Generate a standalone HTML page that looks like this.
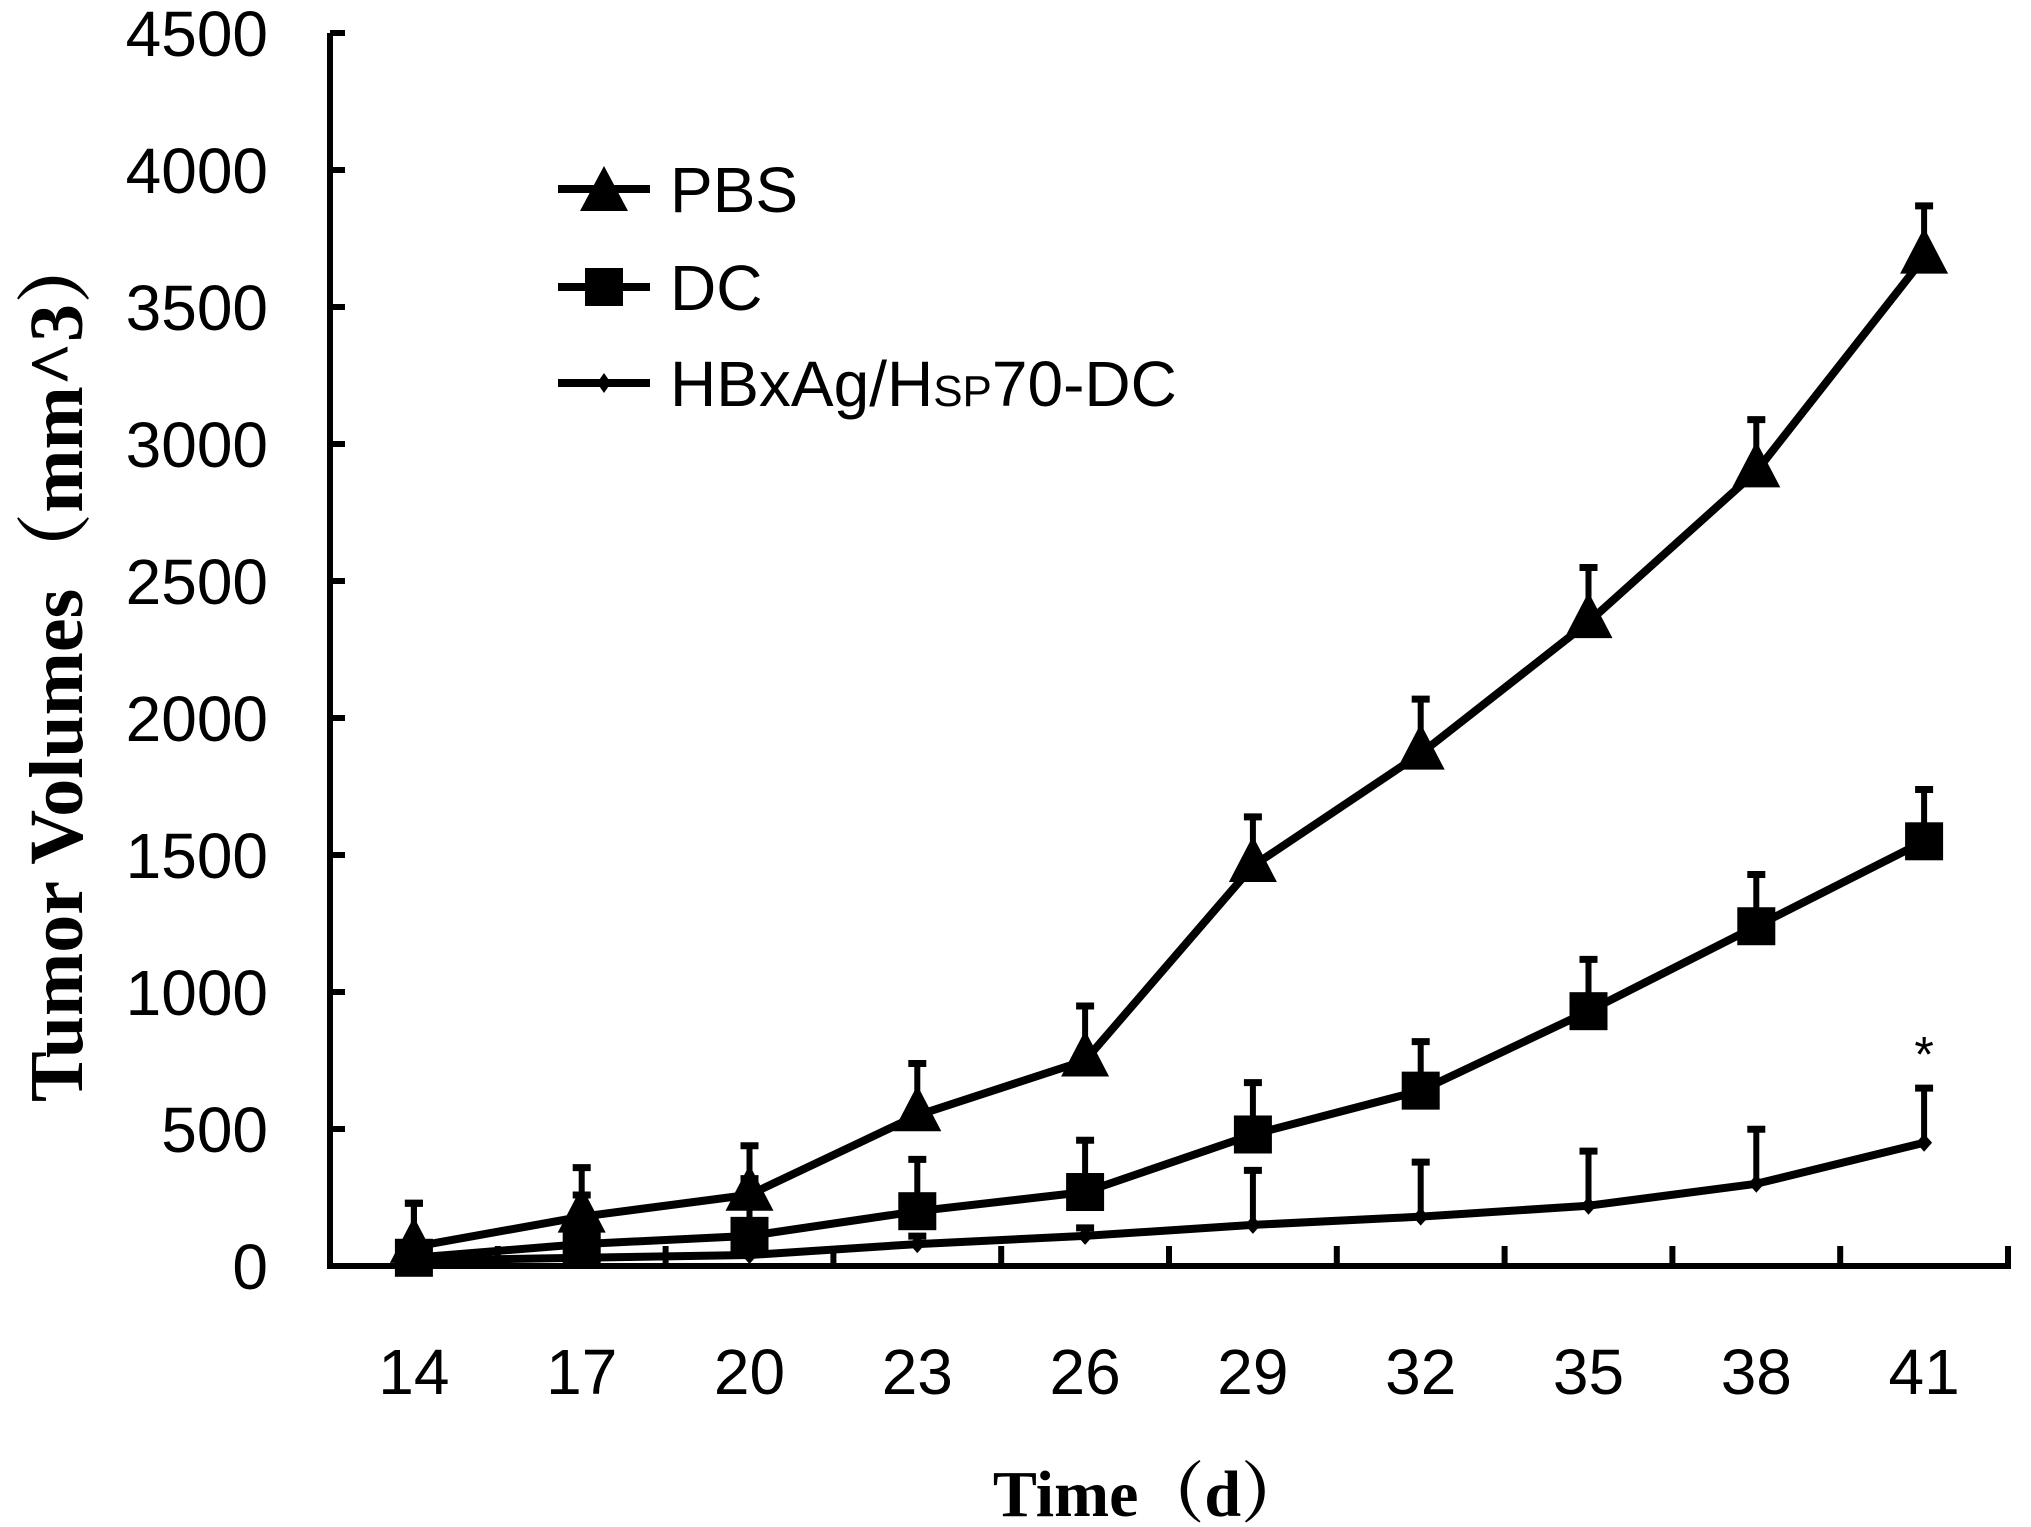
<!DOCTYPE html>
<html><head><meta charset="utf-8"><style>
html,body{margin:0;padding:0;background:#fff;}
svg{display:block;}
</style></head><body>
<svg id="chart" width="2031" height="1527" viewBox="0 0 2031 1527" xmlns="http://www.w3.org/2000/svg"></svg>
<script>
const days = [14,17,20,23,26,29,32,35,38,41];
const yTicks = [0,500,1000,1500,2000,2500,3000,3500,4000,4500];
const pbsMean = [70,180,260,550,750,1460,1870,2350,2900,3680];
const pbsErrTop = [240,370,450,750,960,1650,2080,2560,3100,3880];
const dcMean = [30,80,110,200,270,480,640,930,1240,1550];
const dcErrTop = [240,270,330,400,470,680,830,1130,1440,1750];
const hbMean = [20,30,40,80,110,150,180,220,300,450];
const hbErrTop = [60,70,90,120,150,360,390,430,510,660];
const starValue = 820;

const NS='http://www.w3.org/2000/svg';
const svg=document.getElementById('chart');
const X0=330, X1=2008, Y0=1266, YTOP=33, YMAX=4500;
const band=(X1-X0)/days.length;
function xs(i){return X0+band*(i+0.5);}
function ys(v){return Y0-(v/YMAX)*(Y0-YTOP);}
function mk(tag,attrs,parent){const e=document.createElementNS(NS,tag);for(const k in attrs)e.setAttribute(k,attrs[k]);(parent||svg).appendChild(e);return e;}
const FONT='"Liberation Sans", sans-serif';
const SERIF='"Liberation Serif", "Noto Serif CJK SC", serif';

let ax=mk('line',{x1:X0,y1:YTOP,x2:X0,y2:Y0+3,stroke:'#000','stroke-width':6});


ax=mk('line',{x1:X0-3,y1:Y0,x2:X1+3,y2:Y0,stroke:'#000','stroke-width':6});



yTicks.forEach(v=>{
  const t=mk('line',{x1:X0,y1:ys(v),x2:X0+15,y2:ys(v),stroke:'#000','stroke-width':6});
  
  
  const l=mk('text',{x:268,y:ys(v)+23,'text-anchor':'end','font-family':FONT,'font-size':64});
  l.textContent=v;
  
  
});
for(let i=1;i<=days.length;i++){
  const x=X0+band*i;
  const t=mk('line',{x1:x,y1:Y0,x2:x,y2:Y0-20,stroke:'#000','stroke-width':6});
  
  
}
days.forEach((d,i)=>{
  const l=mk('text',{x:xs(i),y:1394,'text-anchor':'middle','font-family':FONT,'font-size':64});
  l.textContent=d;
  
  
});

let t=mk('text',{x:1150,y:1516,'text-anchor':'middle','font-family':SERIF,'font-size':66,'font-weight':'bold'});
t.textContent='Time（d）';


t=mk('text',{x:0,y:0,'text-anchor':'middle','font-family':SERIF,'font-size':76,'font-weight':'bold',transform:'translate(82,665) rotate(-90)'});
t.textContent='Tumor Volumes（mm^3）';



function marker(kind,x,y,g){
  if(kind==='tri') return mk('polygon',{points:`${x},${y-30} ${x-24},${y+16} ${x+24},${y+16}`,fill:'#000'},g);
  if(kind==='sq') return mk('rect',{x:x-19,y:y-19,width:38,height:38,fill:'#000'},g);
  return mk('polygon',{points:`${x},${y-9} ${x+8},${y} ${x},${y+9} ${x-8},${y}`,fill:'#000'},g);
}
function series(name,mean,err,kind){
  const g=mk('g',{});
  
  
  mean.forEach((v,i)=>{
    const x=xs(i);
    const e=mk('line',{x1:x,y1:ys(v),x2:x,y2:ys(err[i]),stroke:'#000','stroke-width':6},g);
    
    
    const c=mk('line',{x1:x-9,y1:ys(err[i])+3,x2:x+9,y2:ys(err[i])+3,stroke:'#000','stroke-width':7},g);
    
    
  });
  const p=mk('polyline',{points:mean.map((v,i)=>xs(i)+','+ys(v)).join(' '),fill:'none',stroke:'#000','stroke-width':8,'stroke-linejoin':'round'},g);
  
  
  mean.forEach((v,i)=>{
    const m=marker(kind,xs(i),ys(v),g);
    
    
  });
}
series('hbxag-hsp70-dc',hbMean,hbErrTop,'dia');
series('dc',dcMean,dcErrTop,'sq');
series('pbs',pbsMean,pbsErrTop,'tri');

t=mk('text',{x:xs(9),y:ys(starValue)+30,'text-anchor':'middle','font-family':FONT,'font-size':50});
t.textContent='*';



const legend=mk('g',{});


const legItems=[['PBS','tri',189],['DC','sq',287],['HBxAg/HSP70-DC','dia',383]];
legItems.forEach(([lab,kind,y])=>{
  const g=mk('g',{},legend);
  
  
  mk('line',{x1:558,y1:y,x2:650,y2:y,stroke:'#000','stroke-width':8},g);
  if(kind==='tri') mk('polygon',{points:`604,${y-23} 580,${y+22} 628,${y+22}`,fill:'#000'},g);
  else if(kind==='sq') mk('rect',{x:585,y:y-19,width:38,height:38,fill:'#000'},g);
  else mk('polygon',{points:`604,${y-10} 611,${y} 604,${y+10} 597,${y}`,fill:'#000'},g);
  const tx=mk('text',{x:670,y:y+23,'font-family':FONT,'font-size':64},g);
  if(lab.startsWith('HBx')){
    tx.innerHTML='HBxAg/H<tspan font-size="44">SP</tspan>70-DC';
  } else tx.textContent=lab;
});
</script>
</body></html>
